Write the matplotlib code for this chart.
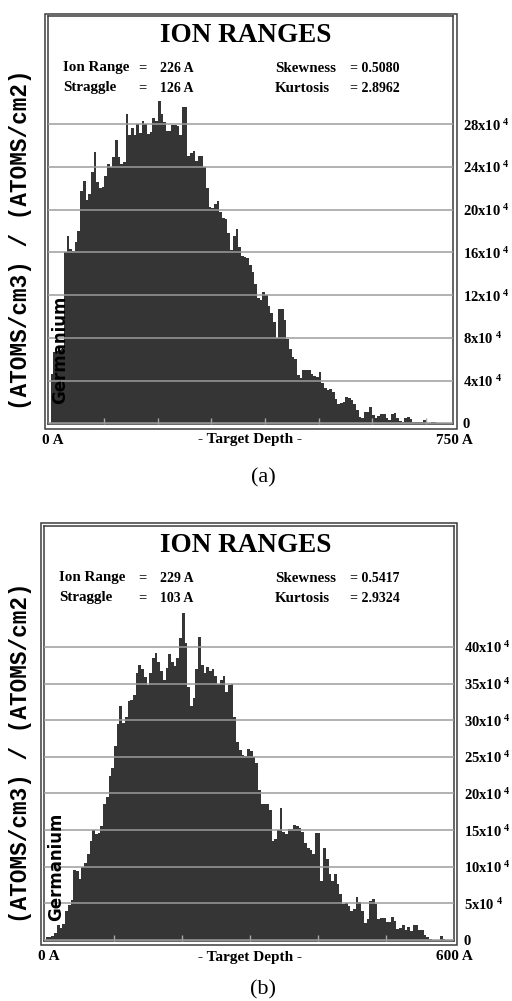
import numpy as np
import matplotlib.pyplot as plt
from matplotlib.patches import Rectangle

plt.rcParams['mathtext.fontset'] = 'custom'
plt.rcParams['mathtext.rm'] = 'Liberation Serif:bold'
plt.rcParams['mathtext.default'] = 'rm'

# depth histograms, values in units of 10^4 (atoms/cm3)/(atoms/cm2)
# (a): 150 bins of 5 A from 0 to 750 A
conc_a = [4.6, 6.7, 6.8, 6.9, 7.0, 16.0, 17.5, 16.3, 16.1, 17.0,
          18.0, 21.8, 22.7, 20.9, 21.5, 23.5, 25.4, 22.6, 22.0, 22.1,
          23.2, 24.3, 24.0, 24.9, 26.5, 24.9, 24.3, 24.5, 29.0, 27.0,
          27.7, 27.0, 28.0, 27.2, 28.3, 28.0, 27.1, 27.3, 28.6, 28.3,
          30.2, 29.0, 28.2, 27.4, 27.4, 27.9, 27.9, 27.8, 27.0, 29.6,
          29.6, 25.0, 25.3, 25.5, 24.6, 25.0, 25.0, 24.0, 22.0, 20.3,
          20.2, 20.5, 20.8, 19.8, 19.2, 19.1, 17.8, 16.2, 17.5, 18.2,
          16.5, 15.7, 15.6, 15.5, 14.8, 14.2, 13.0, 11.7, 11.5, 12.3,
          12.0, 11.0, 10.3, 9.5, 8.0, 10.7, 10.7, 9.7, 7.9, 7.0,
          6.2, 6.0, 4.5, 4.2, 5.0, 5.0, 5.0, 4.6, 4.4, 4.3,
          4.8, 3.8, 3.3, 3.1, 3.2, 2.9, 2.3, 1.8, 1.9, 2.0,
          2.5, 2.4, 2.2, 1.8, 1.2, 0.6, 0.5, 1.1, 1.1, 1.5,
          0.8, 0.5, 0.7, 0.9, 0.9, 0.5, 0.3, 0.9, 1.0, 0.5,
          0.2, 0.15, 0.5, 0.6, 0.4, 0.15, 0.15, 0.15, 0.15, 0.3,
          0, 0, 0.15, 0.15, 0, 0, 0, 0, 0, 0]
ticks_a = [0, 4, 8, 12, 16, 20, 24, 28]
stats_a = ['226 A', '126 A', '0.5080', '2.8962']

# (b): 150 bins of 4 A from 0 to 600 A
conc_b = [0.4, 0.4, 0.5, 1.0, 2.0, 1.6, 2.2, 4.0, 4.8, 5.5,
          9.5, 9.4, 8.3, 9.9, 10.5, 11.8, 13.5, 15.0, 14.4, 14.6,
          15.6, 18.5, 19.5, 22.4, 23.5, 26.5, 29.5, 32.0, 29.6, 30.5,
          32.6, 32.8, 33.4, 36.5, 37.5, 37.0, 35.9, 34.8, 36.5, 38.5,
          39.2, 38.0, 36.7, 35.5, 37.1, 39.0, 38.0, 37.4, 38.5, 41.2,
          44.6, 40.5, 34.5, 32.0, 33.0, 37.0, 41.3, 37.5, 36.5, 37.2,
          36.7, 37.0, 36.0, 34.9, 35.5, 36.0, 33.9, 34.8, 35.0, 30.5,
          27.0, 25.9, 25.2, 25.1, 26.0, 25.8, 25.0, 24.1, 20.5, 18.6,
          18.6, 18.6, 17.8, 13.5, 13.8, 15.0, 18.0, 14.8, 14.5, 15.1,
          15.1, 15.7, 15.5, 15.3, 14.8, 13.2, 12.5, 12.3, 11.8, 14.6,
          14.6, 8.0, 12.5, 11.0, 9.0, 8.1, 9.0, 7.6, 6.3, 4.9,
          5.1, 4.7, 3.9, 4.2, 5.9, 5.2, 4.0, 2.3, 2.8, 5.3,
          5.6, 4.9, 2.8, 3.0, 3.0, 2.5, 2.5, 3.1, 2.6, 1.5,
          1.7, 2.0, 1.3, 1.8, 1.2, 2.0, 2.0, 1.4, 1.3, 0.7,
          0.35, 0.1, 0, 0, 0, 0.55, 0.2, 0, 0, 0]
ticks_b = [0, 5, 10, 15, 20, 25, 30, 35, 40]
stats_b = ['229 A', '103 A', '0.5417', '2.9324']

W, H = 512, 1001
fig = plt.figure(figsize=(W / 100, H / 100), dpi=100)

def fx(x):
    return x / W

def fy(y):
    return 1 - y / H

def ftext(x, y, s, **kw):
    fig.text(fx(x), fy(y), s, **kw)

serif = 'Liberation Serif'
bar_col = '#353535'
frame_col = '#3c3c3c'

panels = [
    dict(conc=conc_a, dmax=750, ticks=ticks_a, stats=stats_a, tag='(a)',
         inner=(48, 16.5, 453, 424), outer=(44.5, 13.8, 456.5, 428.5),
         xlim=(-5, 751), ylim=(-0.07, 38.1), top=0, lx=63, tagy=54),
    dict(conc=conc_b, dmax=600, ticks=ticks_b, stats=stats_b, tag='(b)',
         inner=(44.3, 526, 454, 941), outer=(41, 523.3, 457, 944.5),
         xlim=(-2.6, 600.7), ylim=(-0.14, 56.5), top=510, lx=59, tagy=49),
]

for p in panels:
    x0, y0, x1, y1 = p['inner']
    ax = fig.add_axes([fx(x0), fy(y1), (x1 - x0) / W, (y1 - y0) / H])
    n = len(p['conc'])
    edges = np.linspace(0, p['dmax'], n + 1)
    ax.stairs(p['conc'], edges, fill=True, color=bar_col, linewidth=0)
    ax.set_xlim(*p['xlim'])
    ax.set_ylim(*p['ylim'])
    ax.set_axisbelow(False)
    ax.grid(axis='y', color='#9c9c9c', linewidth=1.1)

    ax.set_yticks(p['ticks'])
    ax.yaxis.tick_right()
    labels = ['0'] + [r'%dx10$^{\;4}$' % t for t in p['ticks'][1:]]
    ax.set_yticklabels(labels, fontfamily=serif, fontweight='bold', fontsize=10.5)
    ax.tick_params(axis='y', length=0, pad=7)

    ax.set_xticks(np.arange(100, p['dmax'], 100))
    ax.set_xticklabels([])
    ax.tick_params(axis='x', direction='in', length=4.5, width=1, color='#a8a8a8')
    for s in ax.spines.values():
        s.set_color(frame_col)
        s.set_linewidth(1.1)

    ox0, oy0, ox1, oy1 = p['outer']
    fig.patches.append(Rectangle((fx(ox0), fy(oy1)), (ox1 - ox0) / W, (oy1 - oy0) / H,
                                 transform=fig.transFigure, fill=False,
                                 edgecolor=frame_col, linewidth=1.1))

    t = p['top']
    ftext(246, t + 36, 'ION RANGES', family=serif, weight='bold', fontsize=19.5,
          ha='center', va='center')
    row1, row2 = t + 68, t + 88
    lx = p['lx']
    ftext(lx, row1, 'Ion Range', family=serif, weight='bold', fontsize=10.8, va='center')
    ftext(lx, row2, 'Straggle', family=serif, weight='bold', fontsize=10.8, va='center')
    ftext(138, row1, '=', family=serif, weight='bold', fontsize=10.5, va='center')
    ftext(138, row2, '=', family=serif, weight='bold', fontsize=10.5, va='center')
    ftext(160, row1, p['stats'][0], family=serif, weight='bold', fontsize=10, va='center')
    ftext(160, row2, p['stats'][1], family=serif, weight='bold', fontsize=10, va='center')
    ftext(275, row1, 'Skewness', family=serif, weight='bold', fontsize=10.8, va='center')
    ftext(275, row2, 'Kurtosis', family=serif, weight='bold', fontsize=10.8, va='center')
    ftext(350, row1, '= ' + p['stats'][2], family=serif, weight='bold', fontsize=10, va='center')
    ftext(350, row2, '= ' + p['stats'][3], family=serif, weight='bold', fontsize=10, va='center')

    yl = y1 + 16
    ftext(x0 - 6, yl, '0 A', family=serif, weight='bold', fontsize=11, va='center')
    ftext(250, yl, '- Target Depth -', family=serif, weight='bold', fontsize=11,
          ha='center', va='center')
    ftext(473, yl, '%d A' % p['dmax'], family=serif, weight='bold', fontsize=11,
          ha='right', va='center')
    ftext(263, y1 + p['tagy'], p['tag'], family=serif, fontsize=16, ha='center', va='center')

    ftext(21, (y0 + y1) / 2 + 19, '(ATOMS/cm3) / (ATOMS/cm2)', family='Liberation Mono',
          weight='bold', fontsize=16.3, rotation=90, ha='center', va='center')
    ftext(x0 + 12, y1 - 74, 'Germanium', family='DejaVu Sans', weight='bold',
          fontsize=12, rotation=90, ha='center', va='center', color='black')

fig.savefig('out.png', dpi=100)
